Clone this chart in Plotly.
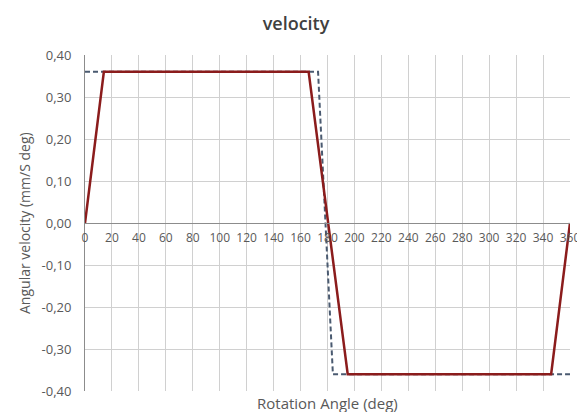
import plotly.graph_objects as go

# Data
angle_actual = [0, 14, 166, 195, 346, 360]
vel_actual = [0.0, 0.36, 0.36, -0.36, -0.36, 0.0]

angle_ideal = [0, 173, 184, 360]
vel_ideal = [0.36, 0.36, -0.36, -0.36]

x_ticks = list(range(0, 361, 20))
x_tick_labels = [str(v) for v in x_ticks]
y_ticks = [0.4, 0.3, 0.2, 0.1, 0.0, -0.1, -0.2, -0.3, -0.4]
y_tick_labels = ["0,40", "0,30", "0,20", "0,10", "0,00", "-0,10", "-0,20", "-0,30", "-0,40"]

# page has an 8px body margin, so the figure is 8px smaller than the window
W, H = 577, 404
L, R, T, B = 77, 15, 47, 21
pw = W - L - R
ph = H - T - B

fig = go.Figure()
fig.add_trace(go.Scatter(x=angle_ideal, y=vel_ideal, mode="lines",
                         line=dict(color="#4A5A70", width=2, dash="5px,3px"),
                         showlegend=False))
fig.add_trace(go.Scatter(x=angle_actual, y=vel_actual, mode="lines",
                         line=dict(color="#8B1C1C", width=2.5),
                         showlegend=False))

fig.update_layout(
    width=W, height=H,
    margin=dict(l=L, r=R, t=T, b=B, autoexpand=False),
    paper_bgcolor="white", plot_bgcolor="white",
    font=dict(family="Open Sans", size=12, color="#595959"),
    title=dict(text="velocity", x=288 / W, xanchor="center", y=1 - 16 / H, yanchor="middle",
               font=dict(size=18, color="#404040", weight=600)),
    xaxis=dict(range=[0, 360], tickvals=x_ticks, ticktext=x_tick_labels,
               showgrid=True, gridcolor="#D0D0D0", gridwidth=1, automargin=False,
               anchor="free", position=0.5, showline=True, linecolor="#8C8C8C", linewidth=1,
               zeroline=False, ticks="", ticklabelstandoff=4,
               tickfont=dict(size=12, color="#595959")),
    yaxis=dict(range=[-0.4, 0.4], tickvals=y_ticks, ticktext=y_tick_labels,
               showgrid=True, gridcolor="#D0D0D0", gridwidth=1, automargin=False,
               showline=True, linecolor="#8C8C8C", linewidth=1,
               zeroline=False, ticks="", ticklabelstandoff=10,
               tickfont=dict(size=13, color="#595959")),
    annotations=[
        dict(text="Rotation Angle (deg)", x=0.5, y=-(395 - (H - B)) / ph, xref="paper", yref="paper",
             xanchor="center", yanchor="middle", showarrow=False,
             font=dict(size=15, color="#595959")),
        dict(text="Angular velocity (mm/S deg)", x=(16 - L) / pw, y=0.5, xref="paper", yref="paper",
             xanchor="center", yanchor="middle",
             showarrow=False, textangle=-90, font=dict(size=14, color="#595959")),
    ],
)

fig.write_html("out.html")
